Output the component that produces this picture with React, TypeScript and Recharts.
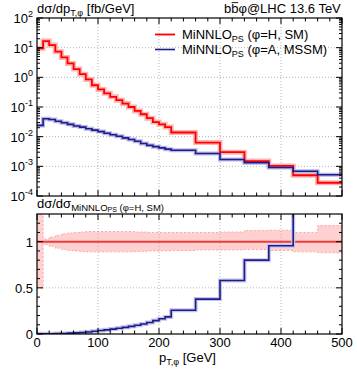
import { Area, ComposedChart, Line, ReferenceLine, XAxis, YAxis } from "recharts";

// bin edges in GeV (10 GeV bins up to 220, then 40 GeV bins)
const binEdges = [
  0, 10, 20, 30, 40, 50, 60, 70, 80, 90, 100, 110, 120, 130, 140, 150, 160, 170, 180, 190, 200,
  210, 220, 260, 300, 340, 380, 420, 460, 500,
];

// dsigma/dpT [fb/GeV], phi = H (SM)
const xsecH = [
  9.5, 16.7, 12.2, 7.3, 4.7, 2.95, 1.9, 1.28, 0.85, 0.54, 0.39, 0.29, 0.22, 0.17, 0.13, 0.1,
  0.074, 0.057, 0.042, 0.031, 0.026, 0.021, 0.0138, 0.0063, 0.003, 0.0015, 0.00103, 0.0005,
  0.00028,
];

// dsigma/dpT [fb/GeV], phi = A (MSSM)
const xsecA = [
  0.024, 0.04, 0.038, 0.033, 0.0295, 0.026, 0.023, 0.021, 0.0185, 0.0166, 0.0148, 0.013, 0.0116,
  0.0103, 0.0091, 0.008, 0.007, 0.0059, 0.0051, 0.0046, 0.0042, 0.0038, 0.0035, 0.0027, 0.0017,
  0.00133, 0.00091, 0.00068, 0.00052,
];

// ratios to MiNNLO_PS (phi=H, SM)
const ratioH = [
  1, 1, 1, 1, 1, 1, 1, 1, 1, 1, 1, 1, 1, 1, 1, 1, 1, 1, 1, 1, 1, 1, 1, 1, 1, 1, 1, 1, 1,
];
const ratioA = [
  0.003, 0.003, 0.003, 0.005, 0.006, 0.009, 0.012, 0.016, 0.021, 0.03, 0.038, 0.045, 0.053,
  0.062, 0.072, 0.083, 0.094, 0.108, 0.125, 0.145, 0.165, 0.185, 0.258, 0.378, 0.58, 0.8, 0.956,
  1.36, 1.86,
];
const bandLo = [
  0.5, 0.97, 0.95, 0.93, 0.915, 0.905, 0.9, 0.895, 0.89, 0.89, 0.89, 0.89, 0.89, 0.89, 0.89,
  0.89, 0.895, 0.895, 0.9, 0.9, 0.9, 0.9, 0.905, 0.91, 0.91, 0.915, 0.905, 0.89, 0.88,
];
const bandHi = [
  1.6, 1.03, 1.05, 1.07, 1.085, 1.095, 1.1, 1.105, 1.11, 1.11, 1.11, 1.11, 1.11, 1.11, 1.11,
  1.11, 1.105, 1.105, 1.1, 1.1, 1.1, 1.1, 1.1, 1.1, 1.105, 1.12, 1.125, 1.1, 1.175,
];

const xTicks = [
  0, 20, 40, 60, 80, 100, 120, 140, 160, 180, 200, 220, 240, 260, 280, 300, 320, 340, 360, 380,
  400, 420, 440, 460, 480, 500,
];
const xMajorTicks = [0, 100, 200, 300, 400, 500];
const decadeTicks = [1e-4, 1e-3, 1e-2, 1e-1, 1, 10, 100];
const ratioTicks = [0, 0.1, 0.2, 0.3, 0.4, 0.5, 0.6, 0.7, 0.8, 0.9, 1, 1.1, 1.2];
const ratioMajorTicks = [0, 0.5, 1];
const ratioLabels = ["0", "0.5", "1"];

const logTicks = [
  ...decadeTicks.slice(0, -1).flatMap((d) => [1, 2, 3, 4, 5, 6, 7, 8, 9].map((k) => k * d)),
  100,
];

// one row per bin edge, last edge repeats the last bin so the step closes at 500
const rows = binEdges.map((x, i) => {
  const j = Math.min(i, xsecH.length - 1);
  return {
    x,
    h: xsecH[j],
    a: xsecA[j],
    rh: ratioH[j],
    ra: ratioA[j],
    band: [bandLo[j], bandHi[j]],
  };
});

const FONT = "Liberation Sans, Arial, Helvetica, sans-serif";
const PLOT_W = 305;
const UPPER_H = 178;
const LOWER_H = 120;
const RED = "#ff0000";
const BLUE = "#1c1c8c";
const GRID = "#b4b4b4";

function XTick(props: any) {
  const { x, y, payload, plotH, labels } = props;
  const v = payload.value;
  const major = xMajorTicks.includes(v);
  const len = major ? 6 : 3.5;
  return (
    <g>
      <line x1={x} x2={x} y1={y} y2={y - len} stroke="#000" />
      <line x1={x} x2={x} y1={y - plotH} y2={y - plotH + len} stroke="#000" />
      {labels && major && (
        <text x={x} y={y + 12.5} textAnchor="middle" fontSize={13} fontFamily={FONT} fill="#000">
          {v}
        </text>
      )}
    </g>
  );
}

function LogTick(props: any) {
  const { x, y, payload } = props;
  const v = payload.value;
  const e = Math.round(Math.log10(v));
  const major = Math.abs(Math.log10(v) - e) < 1e-9;
  const len = major ? 6 : 3;
  return (
    <g>
      <line x1={x} x2={x + len} y1={y} y2={y} stroke="#000" />
      <line x1={x + PLOT_W} x2={x + PLOT_W - len} y1={y} y2={y} stroke="#000" />
      {major && (
        <text x={x - 4} y={y + 5} textAnchor="end" fontSize={13} fontFamily={FONT} fill="#000">
          10
          <tspan fontSize={9} dy={-6}>
            {e}
          </tspan>
        </text>
      )}
    </g>
  );
}

function RatioTick(props: any) {
  const { x, y, payload } = props;
  const v = payload.value;
  const idx = ratioMajorTicks.findIndex((m) => Math.abs(m - v) < 1e-9);
  const len = idx >= 0 ? 6 : 3;
  return (
    <g>
      <line x1={x} x2={x + len} y1={y} y2={y} stroke="#000" />
      <line x1={x + PLOT_W} x2={x + PLOT_W - len} y1={y} y2={y} stroke="#000" />
      {idx >= 0 && (
        <text x={x - 4} y={y + 5} textAnchor="end" fontSize={13} fontFamily={FONT} fill="#000">
          {ratioLabels[idx]}
        </text>
      )}
    </g>
  );
}

export default function App() {
  return (
    <div
      style={{
        position: "absolute",
        left: 0,
        top: 0,
        width: 357,
        height: 376,
        background: "#fff",
        overflow: "hidden",
      }}
    >
      <div style={{ position: "absolute", left: 0, top: 0 }}>
        <ComposedChart
          width={357}
          height={210}
          data={rows}
          margin={{ top: 18, right: 15, bottom: 0, left: 0 }}
        >
          <XAxis
            dataKey="x"
            type="number"
            domain={[0, 500]}
            allowDataOverflow
            ticks={xTicks}
            interval={0}
            height={14}
            tickSize={0}
            tickMargin={0}
            axisLine={false}
            tickLine={false}
            tick={(p: any) => <XTick {...p} plotH={UPPER_H} labels={false} />}
          />
          <YAxis
            type="number"
            scale="log"
            domain={[1e-4, 100]}
            allowDataOverflow
            ticks={logTicks}
            interval={0}
            width={37}
            tickSize={0}
            tickMargin={0}
            axisLine={false}
            tickLine={false}
            tick={(p: any) => <LogTick {...p} />}
          />
          {[100, 200, 300, 400].map((v) => (
            <ReferenceLine key={`gx${v}`} x={v} stroke={GRID} strokeDasharray="1 2" />
          ))}
          {decadeTicks.slice(1, -1).map((v) => (
            <ReferenceLine key={`gy${v}`} y={v} stroke={GRID} strokeDasharray="1 2" />
          ))}
          <Line
            type="stepAfter"
            dataKey="h"
            stroke="#ffb4b4"
            strokeWidth={5}
            dot={false}
            activeDot={false}
            isAnimationActive={false}
          />
          <Line
            type="stepAfter"
            dataKey="a"
            stroke="#b8b8e4"
            strokeWidth={4}
            dot={false}
            activeDot={false}
            isAnimationActive={false}
          />
          <Line
            type="stepAfter"
            dataKey="h"
            stroke={RED}
            strokeWidth={1.8}
            dot={false}
            activeDot={false}
            isAnimationActive={false}
          />
          <Line
            type="stepAfter"
            dataKey="a"
            stroke={BLUE}
            strokeWidth={1.6}
            dot={false}
            activeDot={false}
            isAnimationActive={false}
          />
        </ComposedChart>
      </div>

      <div style={{ position: "absolute", left: 0, top: 200 }}>
        <ComposedChart
          width={357}
          height={176}
          data={rows}
          margin={{ top: 14, right: 15, bottom: 0, left: 0 }}
        >
          <XAxis
            dataKey="x"
            type="number"
            domain={[0, 500]}
            allowDataOverflow
            ticks={xTicks}
            interval={0}
            height={42}
            tickSize={0}
            tickMargin={0}
            axisLine={false}
            tickLine={false}
            tick={(p: any) => <XTick {...p} plotH={LOWER_H} labels />}
          />
          <YAxis
            type="number"
            domain={[0, 1.3]}
            allowDataOverflow
            ticks={ratioTicks}
            interval={0}
            width={37}
            tickSize={0}
            tickMargin={0}
            axisLine={false}
            tickLine={false}
            tick={(p: any) => <RatioTick {...p} />}
          />
          {[100, 200, 300, 400].map((v) => (
            <ReferenceLine key={`lx${v}`} x={v} stroke={GRID} strokeDasharray="1 2" />
          ))}
          <ReferenceLine y={0.5} stroke={GRID} strokeDasharray="1 2" />
          <Area
            type="stepAfter"
            dataKey="band"
            fill="#ffc8c8"
            fillOpacity={0.85}
            stroke="#f49a9a"
            strokeWidth={0.8}
            strokeDasharray="2 2"
            dot={false}
            activeDot={false}
            isAnimationActive={false}
          />
          <Line
            type="stepAfter"
            dataKey="rh"
            stroke="#ee3c3c"
            strokeWidth={2}
            dot={false}
            activeDot={false}
            isAnimationActive={false}
          />
          <Line
            type="stepAfter"
            dataKey="ra"
            stroke="#c4c4ea"
            strokeWidth={4}
            dot={false}
            activeDot={false}
            isAnimationActive={false}
          />
          <Line
            type="stepAfter"
            dataKey="ra"
            stroke={BLUE}
            strokeWidth={1.6}
            dot={false}
            activeDot={false}
            isAnimationActive={false}
          />
        </ComposedChart>
      </div>

      <svg
        width={357}
        height={376}
        style={{ position: "absolute", left: 0, top: 0, pointerEvents: "none" }}
        fontFamily={FONT}
      >
        <rect x={37} y={18} width={PLOT_W} height={UPPER_H} fill="none" stroke="#000" strokeWidth={1.2} />
        <rect x={37} y={214} width={PLOT_W} height={LOWER_H} fill="none" stroke="#000" strokeWidth={1.2} />

        <text x={37} y={12.5} fontSize={13}>
          dσ/dp
          <tspan fontSize={9} dy={3}>
            T,φ
          </tspan>
          <tspan dy={-3}> [fb/GeV]</tspan>
        </text>
        <text x={224} y={12.5} fontSize={13}>
          bbφ@LHC 13.6 TeV
        </text>
        {/* bar over the second b */}
        <line x1={231.6} x2={238.2} y1={2.6} y2={2.6} stroke="#000" strokeWidth={0.9} />

        <line x1={155} x2={175} y1={34.5} y2={34.5} stroke={RED} strokeWidth={1.8} />
        <line x1={155} x2={175} y1={49.5} y2={49.5} stroke={BLUE} strokeWidth={1.6} />
        <text x={182} y={39} fontSize={13}>
          MiNNLO
          <tspan fontSize={9} dy={2.5}>
            PS
          </tspan>
          <tspan dy={-2.5}> (φ=H, SM)</tspan>
        </text>
        <text x={182} y={54} fontSize={13}>
          MiNNLO
          <tspan fontSize={9} dy={2.5}>
            PS
          </tspan>
          <tspan dy={-2.5}> (φ=A, MSSM)</tspan>
        </text>

        <text x={37} y={208} fontSize={13}>
          dσ/dσ
          <tspan fontSize={9.5} dy={2.5}>
            MiNNLO
          </tspan>
          <tspan fontSize={7} dy={1.5}>
            PS
          </tspan>
          <tspan fontSize={9.5} dy={-1.5}>
            {" (φ=H, SM)"}
          </tspan>
        </text>

        <text x={159} y={361.5} fontSize={13}>
          p
          <tspan fontSize={9} dy={3}>
            T,φ
          </tspan>
          <tspan dy={-3}> [GeV]</tspan>
        </text>
      </svg>
    </div>
  );
}
